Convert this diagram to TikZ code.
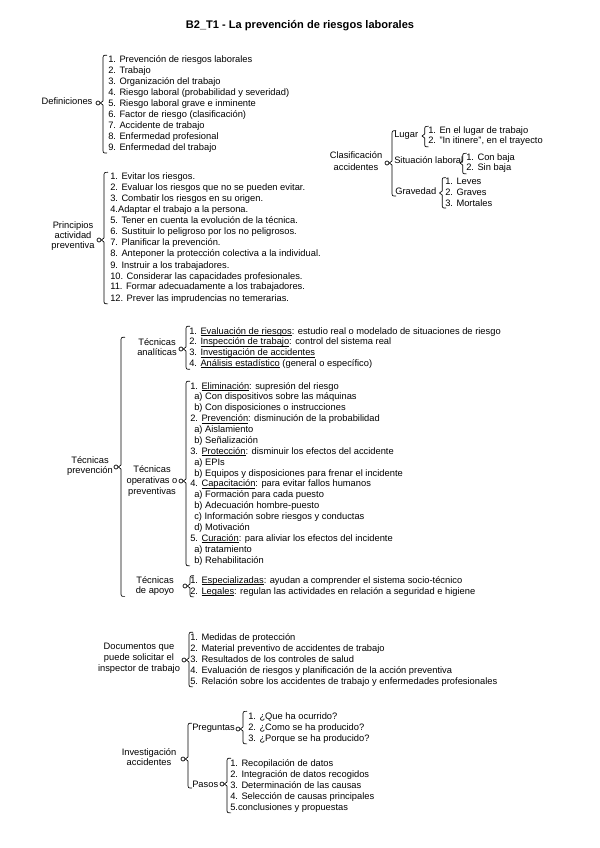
\documentclass[tikz,border=0pt]{standalone}
\usepackage{fontspec}
\setmainfont{Liberation Sans}
\usetikzlibrary{calc}
\newcommand\myul[1]{\setbox0=\hbox{#1}\rlap{\rule[-1.1pt]{\wd0}{0.4pt}}\box0\relax}
\newcommand\brc[3]{%
  \draw[brc] let \p1=(#1), \p2=(#2.north), \p3=(#3.south) in
    (\x1+5pt,\y2+0.5pt) .. controls (\x1+2pt,\y2+0.5pt) .. (\x1+2pt,\y2-3pt)
    -- (\x1+2pt,\y1+1.5pt) -- (\x1,\y1) -- (\x1+2pt,\y1-1.5pt)
    -- (\x1+2pt,\y3+3pt) .. controls (\x1+2pt,\y3-0.5pt) .. (\x1+5pt,\y3-0.5pt);}
\begin{document}
\begin{tikzpicture}[x=0.75pt,y=-0.75pt,
  txt/.style={inner sep=0pt, font=\fontsize{7}{8}\selectfont},
  item/.style={txt, anchor=base west},
  lbl/.style={inner sep=0pt, align=center},
  dot/.style={circle, draw, inner sep=0pt, minimum size=3pt, line width=0.5pt},
  brc/.style={line width=0.5pt, line join=round},
]
\useasboundingbox[fill=white] (0,0) rectangle (599,848);

\node[inner sep=0pt, font=\fontsize{8.3}{10}\selectfont\bfseries] (title) at (300,26) {B2\_T1 - La prevención de riesgos laborales};

% Definiciones
\node[lbl, font=\fontsize{7}{8}\selectfont] (def) at (67,101) {Definiciones};
\node[dot] (cdef) at (98,103) {};
\foreach \t [count=\i] in {1. Prevención de riesgos laborales, 2. Trabajo, 3. Organización del trabajo,
  4. Riesgo laboral (probabilidad y severidad), 5. Riesgo laboral grave e inminente,
  6. Factor de riesgo (clasificación), 7. Accidente de trabajo, 8. Enfermedad profesional,
  9. Enfermedad del trabajo}
  \node[item] (d\i) at (108,{63+(\i-1)*10.9}) {\t};
\brc{cdef.east}{d1}{d9}

% Clasificacion accidentes
\node[lbl, font=\fontsize{7}{9}\selectfont] (cla) at (356,161) {Clasificación\\accidentes};
\node[dot] (ccla) at (387,163) {};
\node[item] (lug) at (394,138) {Lugar};
\node[item] (sit) at (394,164) {Situación laboral};
\node[item] (gra) at (395,195) {Gravedad};
\brc{ccla.east}{lug}{gra}
\coordinate (tlug) at (422,136);
\node[item] (l1) at (428,134) {1. En el lugar de trabajo};
\node[item] (l2) at (428,144) {2. "In itinere", en el trayecto};
\brc{tlug}{l1}{l2}
\coordinate (tsit) at (460,163);
\node[item] (s1) at (466,161) {1. Con baja};
\node[item] (s2) at (466,171) {2. Sin baja};
\brc{tsit}{s1}{s2}
\coordinate (tgra) at (439.5,193);
\node[item] (g1) at (445,185) {1. Leves};
\node[item] (g2) at (445,196) {2. Graves};
\node[item] (g3) at (445,207) {3. Mortales};
\brc{tgra}{g1}{g3}

% Principios
\node[lbl, font=\fontsize{7}{7.2}\selectfont] (pri) at (73,236) {Principios\\actividad\\preventiva};
\node[dot] (cpri) at (99,240) {};
\foreach \t [count=\i] in {1. Evitar los riesgos., 2. Evaluar los riesgos que no se pueden evitar.,
  3. Combatir los riesgos en su origen., 4.Adaptar el trabajo a la persona.,
  5. Tener en cuenta la evolución de la técnica., 6. Sustituir lo peligroso por los no peligrosos.,
  7. Planificar la prevención., 8. Anteponer la protección colectiva a la individual.,
  9. Instruir a los trabajadores., 10. Considerar las capacidades profesionales.,
  11. Formar adecuadamente a los trabajadores., 12. Prever las imprudencias no temerarias.}
  \node[item] (p\i) at (110,{180+(\i-1)*11}) {\t};
\brc{cpri.east}{p1}{p12}

% Tecnicas prevencion
\node[lbl, font=\fontsize{7}{7.6}\selectfont] (tec) at (90,466) {Técnicas\\prevención};
\node[dot] (ctec) at (116,467) {};
\node[lbl, font=\fontsize{7}{8}\selectfont] (ana) at (157,347) {Técnicas\\analíticas};
\node[dot] (cana) at (181,349) {};
\foreach \t [count=\i] in {1. \myul{Evaluación de riesgos}: estudio real o modelado de situaciones de riesgo,
  2. \myul{Inspección de trabajo}: control del sistema real,
  3. \myul{Investigación de accidentes},
  4. \myul{Análisis estadístico} (general o específico)}
  \node[item] (a\i) at (189,{334+(\i-1)*10.8}) {\t};
\brc{cana.east}{a1}{a4}

\node[lbl, font=\fontsize{7}{8}\selectfont] (ope) at (152,481) {Técnicas\\operativas o\\preventivas};
\node[dot] (cope) at (181,481) {};
\foreach \t [count=\i] in {1. \myul{Eliminación}: supresión del riesgo,
  \hspace*{3pt}a) Con dispositivos sobre las máquinas,
  \hspace*{3pt}b) Con disposiciones o instrucciones,
  2. \myul{Prevención}: disminución de la probabilidad,
  \hspace*{3pt}a) Aislamiento,
  \hspace*{3pt}b) Señalización,
  3. \myul{Protección}: disminuir los efectos del accidente,
  \hspace*{3pt}a) EPIs,
  \hspace*{3pt}b) Equipos y disposiciones para frenar el incidente,
  4. \myul{Capacitación}: para evitar fallos humanos,
  \hspace*{3pt}a) Formación para cada puesto,
  \hspace*{3pt}b) Adecuación hombre-puesto,
  \hspace*{3pt}c) Información sobre riesgos y conductas,
  \hspace*{3pt}d) Motivación,
  5. \myul{Curación}: para aliviar los efectos del incidente,
  \hspace*{3pt}a) tratamiento,
  \hspace*{3pt}b) Rehabilitación}
  \node[item] (o\i) at (190,{389+(\i-1)*10.875}) {\t};
\brc{cope.east}{o1}{o17}

\node[lbl, font=\fontsize{7}{7.6}\selectfont] (apo) at (155,586) {Técnicas\\de apoyo};
\node[dot] (capo) at (185,586) {};
\node[item] (ap1) at (190,583.5) {1. \myul{Especializadas}: ayudan a comprender el sistema socio-técnico};
\node[item] (ap2) at (190,594) {2. \myul{Legales}: regulan las actividades en relación a seguridad e higiene};
\brc{capo.east}{ap1}{ap2}

\brc{ctec.east}{ana}{apo}

% Documentos
\node[lbl, font=\fontsize{7}{8.2}\selectfont] (doc) at (139,658) {Documentos que\\puede solicitar el\\inspector de trabajo};
\node[dot] (cdoc) at (184,660) {};
\foreach \t [count=\i] in {1. Medidas de protección,
  2. Material preventivo de accidentes de trabajo,
  3. Resultados de los controles de salud,
  4. Evaluación de riesgos y planificación de la acción preventiva,
  5. Relación sobre los accidentes de trabajo y enfermedades profesionales}
  \node[item] (dc\i) at (190,{640+(\i-1)*11}) {\t};
\brc{cdoc.east}{dc1}{dc5}

% Investigacion
\node[lbl, font=\fontsize{7}{8}\selectfont] (inv) at (149,757) {Investigación\\accidentes};
\node[dot] (cinv) at (183,759) {};
\node[item] (pre) at (192,730.5) {Preguntas};
\node[item] (pas) at (192,787) {Pasos};
\brc{cinv.east}{pre}{pas}
\node[dot] (cpre) at (238,729) {};
\foreach \t [count=\i] in {1. ¿Que ha ocurrido?, 2. ¿Como se ha producido?, 3. ¿Porque se ha producido?}
  \node[item] (q\i) at (248,{719+(\i-1)*11}) {\t};
\brc{cpre.east}{q1}{q3}
\node[dot] (cpas) at (222,784) {};
\foreach \t [count=\i] in {1. Recopilación de datos, 2. Integración de datos recogidos,
  3. Determinación de las causas, 4. Selección de causas principales, 5.conclusiones y propuestas}
  \node[item] (ps\i) at (230,{766+(\i-1)*11}) {\t};
\brc{cpas.east}{ps1}{ps5}
\end{tikzpicture}
\end{document}
